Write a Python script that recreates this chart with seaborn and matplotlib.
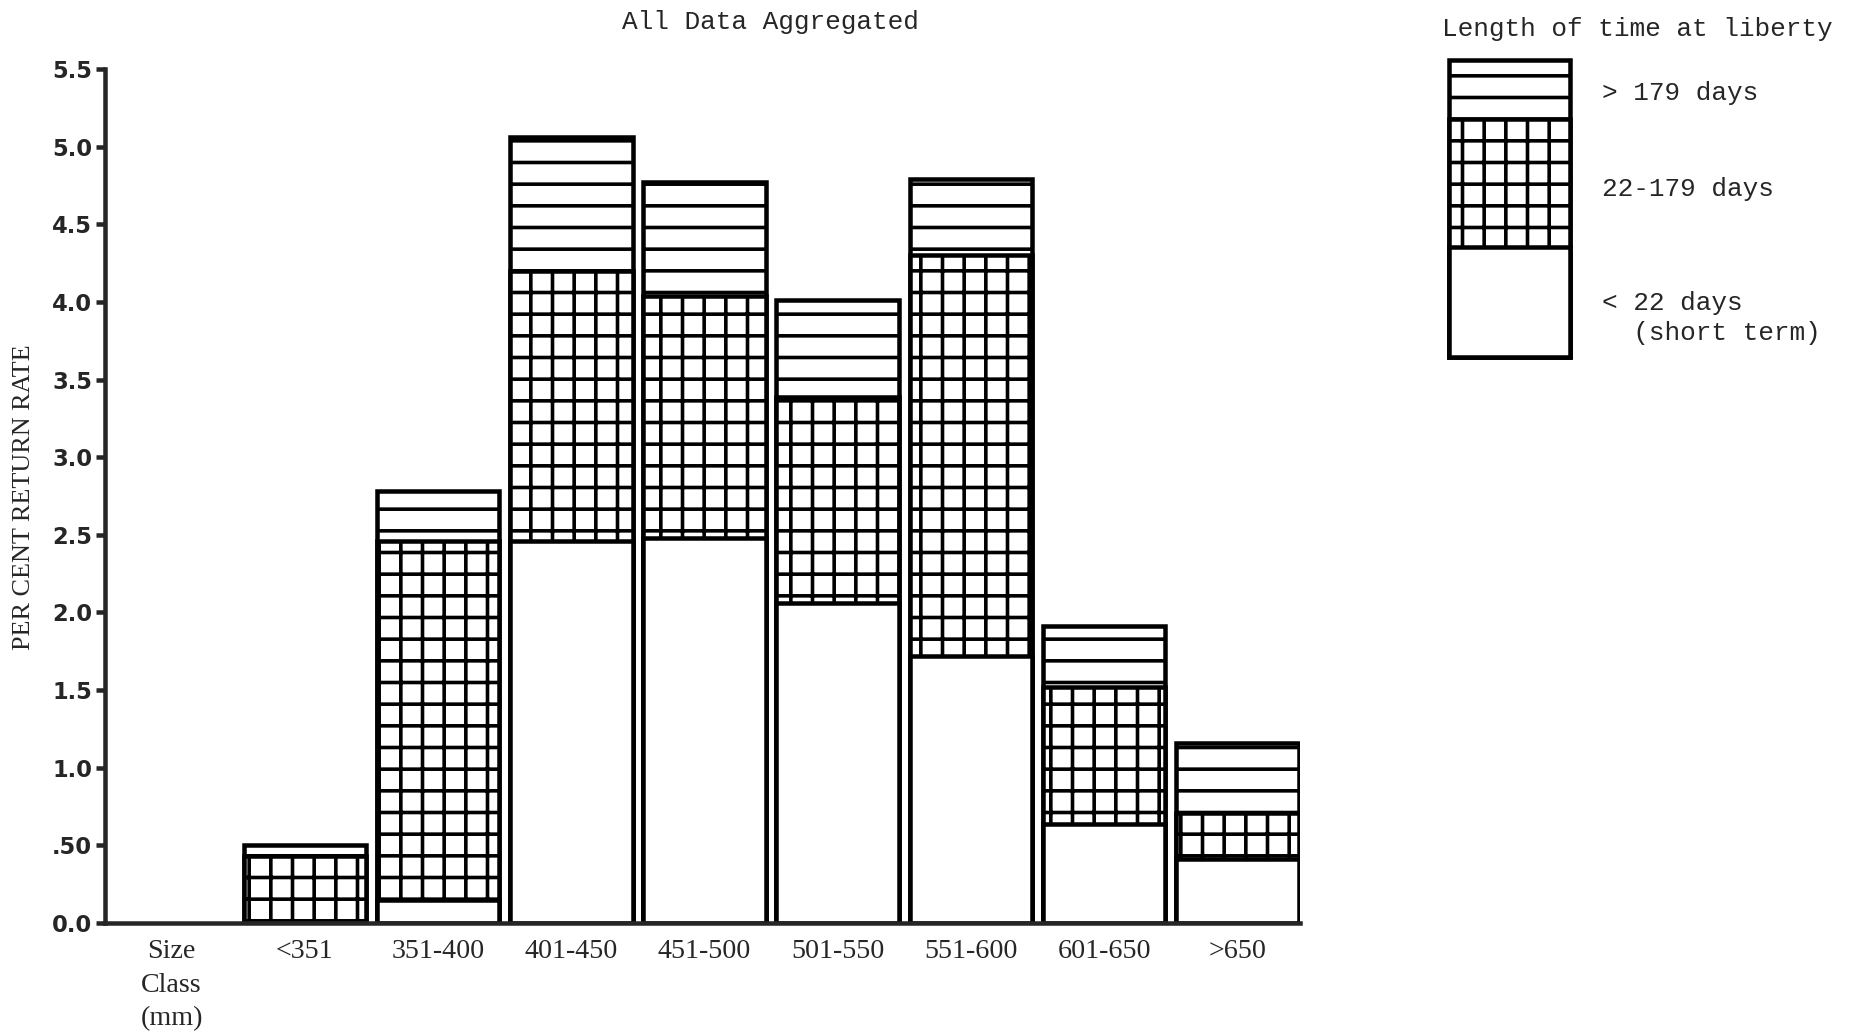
import matplotlib
matplotlib.use("Agg")
import matplotlib.pyplot as plt
import pandas as pd
import seaborn as sns

# Per cent return rate by size class, split by time at liberty
size_classes = ['<351', '351-400', '401-450', '451-500', '501-550', '551-600', '601-650', '>650']
short_term = [0.0, 0.15, 2.46, 2.48, 2.06, 1.72, 0.64, 0.41]   # < 22 days
mid_term = [0.43, 2.31, 1.74, 1.56, 1.33, 2.58, 0.88, 0.30]    # 22-179 days
long_term = [0.07, 0.32, 0.86, 0.73, 0.62, 0.49, 0.39, 0.45]   # > 179 days

y_ticks = [0.0, 0.5, 1.0, 1.5, 2.0, 2.5, 3.0, 3.5, 4.0, 4.5, 5.0, 5.5]
y_ticklabels = ['0.0', '.50', '1.0', '1.5', '2.0', '2.5', '3.0', '3.5', '4.0', '4.5', '5.0', '5.5']
first_label = 'Size\nClass\n(mm)'

legend_labels = ['> 179 days', '22-179 days', '< 22 days\n  (short term)']
legend_heights = [0.93, 1.07, 0.50]  # white, grid, slanted (legend swatch proportions)

df = pd.DataFrame({'size': size_classes, 'short': short_term,
                   'mid': mid_term, 'long': long_term})
df['upto_mid'] = df['short'] + df['mid']
df['total'] = df['upto_mid'] + df['long']

sns.set_style('ticks')
plt.rcParams['font.family'] = ['Liberation Mono', 'DejaVu Sans']
plt.rcParams['hatch.linewidth'] = 2.0
plt.rcParams['hatch.color'] = 'black'

fig = plt.figure(figsize=(1865 / 130, 1032 / 130), dpi=130)
ax = fig.add_axes([0.0563, 0.1056, 0.6407, 0.8275])

order = [first_label] + size_classes
bar_kws = dict(x='size', order=order, color='white', edgecolor='black',
               linewidth=2.5, width=0.92, saturation=1, errorbar=None, ax=ax)

# stacked by overlaying cumulative totals
sns.barplot(data=df, y='total', hatch='-', **bar_kws)
sns.barplot(data=df, y='upto_mid', hatch='+', **bar_kws)
sns.barplot(data=df, y='short', **bar_kws)

ax.set_xlim(-0.5, 8.47)
ax.set_ylim(0, 5.5)
ax.set_yticks(y_ticks)
ax.set_yticklabels(y_ticklabels, fontfamily='DejaVu Sans', fontweight='heavy', fontsize=12.5)
ax.set_xticks(range(len(order)))
ax.set_xticklabels(order, fontfamily='Liberation Serif', fontsize=15.5, linespacing=1.45,
                   va='top')
ax.tick_params(axis='x', length=0, pad=9)
ax.tick_params(axis='y', length=5, width=2.5, pad=2)
ax.set_xlabel('')
ax.set_ylabel('')
for side in ['top', 'right']:
    ax.spines[side].set_visible(False)
for side in ['left', 'bottom']:
    ax.spines[side].set_linewidth(2.5)

fig.text(0.013, 0.518, 'PER CENT RETURN RATE', rotation=90, ha='center', va='center',
         fontfamily='Liberation Serif', fontsize=14.5)
fig.text(0.4133, 0.979, 'All Data Aggregated', ha='center', va='center', fontsize=14.5)

# legend swatch
lax = fig.add_axes([0.777, 0.654, 0.065, 0.288])
cum = [legend_heights[0], legend_heights[0] + legend_heights[1], sum(legend_heights)]
lax.bar([0], [cum[2]], width=1, color='white', edgecolor='black', linewidth=2.5,
        hatch='-', clip_on=False)
lax.bar([0], [cum[1]], width=1, color='white', edgecolor='black', linewidth=2.5,
        hatch='+', clip_on=False)
lax.bar([0], [cum[0]], width=1, color='white', edgecolor='black', linewidth=2.5,
        clip_on=False)
lax.set_xlim(-0.5, 0.5)
lax.set_ylim(0, cum[2])
lax.axis('off')

fig.text(0.773, 0.972, 'Length of time at liberty', ha='left', va='center', fontsize=14.5)
fig.text(0.859, 0.910, legend_labels[0], ha='left', va='center', fontsize=14.5)
fig.text(0.859, 0.817, legend_labels[1], ha='left', va='center', fontsize=14.5)
fig.text(0.859, 0.692, legend_labels[2], ha='left', va='center', fontsize=14.5,
         linespacing=1.35)

fig.savefig('out.png', dpi=130)
